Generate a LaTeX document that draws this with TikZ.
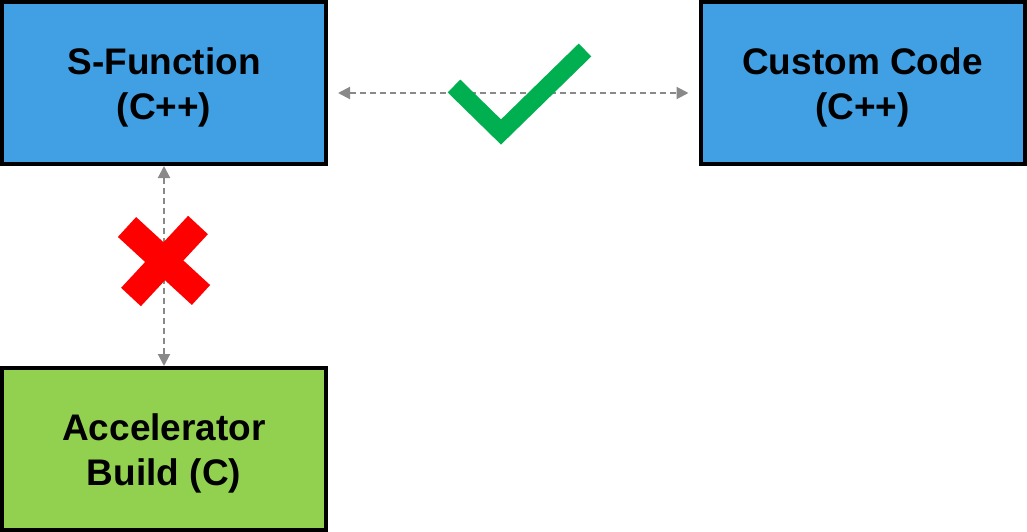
\documentclass[tikz,border=0pt]{standalone}
\usepackage{fontspec}
\setsansfont{Liberation Sans}
\usetikzlibrary{arrows.meta,positioning}

\definecolor{boxblue}{RGB}{65,160,228}
\definecolor{boxgreen}{RGB}{146,208,80}
\definecolor{okgreen}{RGB}{0,176,80}
\definecolor{linkgray}{RGB}{137,137,137}

\tikzset{
  block/.style={draw=black, line width=4pt, minimum width=324pt, minimum height=162pt},
  blocktext/.style={align=center, font=\sffamily\bfseries\fontsize{37}{45}\selectfont},
  link/.style={linkgray, line width=2pt, dash pattern=on 6pt off 4pt,
    {Triangle[length=12pt,width=12pt]}-{Triangle[length=12pt,width=12pt]}},
}

\begin{document}
\begin{tikzpicture}[x=1pt, y=-1pt]
  \useasboundingbox (0,0) rectangle (1027,532);
  \node[block, fill=boxblue] (sfun) at (164,83) {};
  \node[block, fill=boxblue] (custom) at (862.5,83) {};
  \node[block, fill=boxgreen] (accel) at (164,449) {};
  \node[blocktext, yshift=-4pt] (sfuntext) at (sfun.center) {S-Function\\(C++)};
  \node[blocktext, yshift=-4pt] (customtext) at (custom.center) {Custom Code\\(C++)};
  \node[blocktext, yshift=-4pt] (acceltext) at (accel.center) {Accelerator\\Build (C)};
  % links between the blocks
  \draw[link, shorten <=10pt, shorten >=10pt] ([yshift=-10pt]sfun.east) -- ([yshift=-10pt]custom.west);
  \draw[link] (sfun.south) -- (accel.south |- accel.north);
  % works / does not work marks
  \draw[okgreen, line width=18pt, miter limit=10] (454,86) -- (501,132) -- (585,50);
  \draw[red, line width=27pt] (127,227) -- (201,295);
  \draw[red, line width=27pt] (198,225) -- (131,297);
\end{tikzpicture}
\end{document}
